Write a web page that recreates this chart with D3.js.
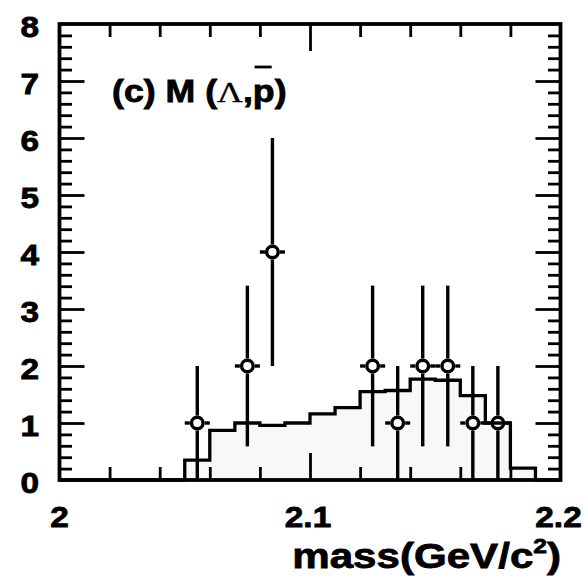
<!DOCTYPE html>
<html>
<head>
<meta charset="utf-8">
<script src="https://cdn.jsdelivr.net/npm/d3@7"></script>
<style>
  html, body { margin: 0; padding: 0; background: #ffffff; }
  svg { display: block; }
</style>
</head>
<body>
<svg id="chart" width="586" height="584"></svg>
<script>
// Histogram bin edges (GeV/c^2) and expected (MC) contents per bin
const binEdges = [2.00, 2.01, 2.02, 2.03, 2.04, 2.05, 2.06, 2.07, 2.08, 2.09, 2.10,
                  2.11, 2.12, 2.13, 2.14, 2.15, 2.16, 2.17, 2.18, 2.19, 2.20];
const mcCounts = [0, 0, 0, 0, 0, 0.35, 0.87, 1.00, 0.96, 1.00,
                  1.16, 1.27, 1.55, 1.57, 1.77, 1.75, 1.48, 1.00, 0.21, 0];

// Measured points: bin centre, entries, statistical error
const dataMass   = [2.055, 2.075, 2.085, 2.125, 2.135, 2.145, 2.155, 2.165, 2.175];
const dataCounts = [1, 2, 4, 2, 1, 2, 2, 1, 1];
const dataErrors = [1, 1.41, 2, 1.41, 1, 1.41, 1.41, 1, 1];

// Axis labelling
const xLabelValues = [2.0, 2.1, 2.2];
const xTickLabels  = ["2", "2.1", "2.2"];
const yLabelValues = [0, 1, 2, 3, 4, 5, 6, 7, 8];
const yTickLabels  = ["0", "1", "2", "3", "4", "5", "6", "7", "8"];

const svg = d3.select("#chart");
const FONT = "'Liberation Sans', Arial, Helvetica, sans-serif";
const STRETCH = 1.15;
const TEXT_WEIGHT = 0.8;   // extra outline to give the heavy print look

const x = d3.scaleLinear().domain([2.0, 2.2]).range([59.5, 560.5]);
const y = d3.scaleLinear().domain([0, 8]).range([480, 24]);

// ---- filled histogram -------------------------------------------------------
const histPts = [[binEdges[0], 0]];
mcCounts.forEach((v, i) => {
  histPts.push([binEdges[i], v]);
  histPts.push([binEdges[i + 1], v]);
});
histPts.push([binEdges[binEdges.length - 1], 0]);

svg.append("path")
  .datum(histPts)
  .attr("fill", "#f8f8f8")
  .attr("d", d3.area().x(d => x(d[0])).y0(y(0)).y1(d => y(d[1])));

// ---- axes (ticks pointing inwards on all four sides) -------------------------
const xMajor = [2.1];
const xMinor = d3.range(2.02, 2.19, 0.02).filter(v => Math.abs(v - 2.1) > 1e-6);
const yMajor = d3.range(1, 8, 1);
const yMinor = d3.range(0.2, 8, 0.2).filter(v => Math.abs(v - Math.round(v)) > 1e-6);

function tickLayer(axis, tr) {
  const g = svg.append("g").attr("transform", tr).call(axis);
  g.select(".domain").remove();
  g.selectAll(".tick line").attr("stroke", "#000").attr("stroke-width", 2.8);
  g.selectAll(".tick text").remove();
}
tickLayer(d3.axisBottom(x).tickValues(xMajor).tickSize(-27).tickFormat(""), `translate(0,${y(0)})`);
tickLayer(d3.axisBottom(x).tickValues(xMinor).tickSize(-13).tickFormat(""), `translate(0,${y(0)})`);
tickLayer(d3.axisTop(x).tickValues(xMajor).tickSize(-27).tickFormat(""), `translate(0,${y(8)})`);
tickLayer(d3.axisTop(x).tickValues(xMinor).tickSize(-13).tickFormat(""), `translate(0,${y(8)})`);
tickLayer(d3.axisLeft(y).tickValues(yMajor).tickSize(-25).tickFormat(""), `translate(${x(2.0)},0)`);
tickLayer(d3.axisLeft(y).tickValues(yMinor).tickSize(-12.5).tickFormat(""), `translate(${x(2.0)},0)`);
tickLayer(d3.axisRight(y).tickValues(yMajor).tickSize(-25).tickFormat(""), `translate(${x(2.2)},0)`);
tickLayer(d3.axisRight(y).tickValues(yMinor).tickSize(-12.5).tickFormat(""), `translate(${x(2.2)},0)`);

// ---- histogram outline -------------------------------------------------------
svg.append("path")
  .datum(histPts)
  .attr("fill", "none")
  .attr("stroke", "#000")
  .attr("stroke-width", 3.3)
  .attr("stroke-linejoin", "miter")
  .attr("d", d3.line().x(d => x(d[0])).y(d => y(d[1])));

// ---- data points with error bars ---------------------------------------------
const halfBin = (binEdges[1] - binEdges[0]) / 2;
const R = 5.8, SW = 3.4, GAP = R + SW / 2;
const pts = dataMass.map((m, i) => ({ m, c: dataCounts[i], e: dataErrors[i] }));
const gp = svg.append("g").attr("stroke", "#000").attr("stroke-width", SW);
pts.forEach(p => {
  const cx = x(p.m), cy = y(p.c);
  const segs = [
    [cx, y(p.c + p.e), cx, cy - GAP],
    [cx, cy + GAP, cx, y(Math.max(0, p.c - p.e))],
    [x(p.m - halfBin), cy, cx - GAP, cy],
    [cx + GAP, cy, x(p.m + halfBin), cy]
  ];
  segs.forEach(s => gp.append("line")
    .attr("x1", s[0]).attr("y1", s[1]).attr("x2", s[2]).attr("y2", s[3]));
  gp.append("circle").attr("cx", cx).attr("cy", cy).attr("r", R).attr("fill", "none");
});

// ---- frame ---------------------------------------------------------------------
svg.append("rect")
  .attr("x", x(2.0)).attr("y", y(8))
  .attr("width", x(2.2) - x(2.0)).attr("height", y(0) - y(8))
  .attr("fill", "none").attr("stroke", "#000").attr("stroke-width", 3.8);

// ---- tick labels ---------------------------------------------------------------
function stretchedText(tx, ty, str, anchor, size) {
  return svg.append("text")
    .attr("transform", `translate(${tx},${ty}) scale(${STRETCH},1)`)
    .attr("text-anchor", anchor)
    .attr("font-family", FONT).attr("font-weight", "bold")
    .attr("font-size", size).attr("fill", "#000")
    .attr("stroke", "#000").attr("stroke-width", TEXT_WEIGHT)
    .text(str);
}
yLabelValues.forEach((v, i) => stretchedText(39, y(v) + 12.5, yTickLabels[i], "end", 29));
xLabelValues.forEach((v, i) => stretchedText(x(v) - (i === 0 ? 0 : 2), 527, xTickLabels[i], "middle", 29));

// ---- axis title ------------------------------------------------------------------
const title = svg.append("text")
  .attr("transform", "translate(561,568) scale(1.17,1)")
  .attr("text-anchor", "end")
  .attr("font-family", FONT).attr("font-weight", "bold")
  .attr("font-size", 36).attr("fill", "#000")
  .attr("stroke", "#000").attr("stroke-width", TEXT_WEIGHT);
title.append("tspan").text("mass(GeV/c");
title.append("tspan").attr("font-size", 21).attr("dy", -15).text("2");
title.append("tspan").attr("dy", 15).text(")");

// ---- panel label ------------------------------------------------------------------
const lg = svg.append("g").attr("transform", "translate(112,102) scale(1.17,1)");
const lbl = lg.append("text")
  .attr("font-family", FONT).attr("font-weight", "bold")
  .attr("font-size", 30.5).attr("fill", "#000")
  .attr("stroke", "#000").attr("stroke-width", TEXT_WEIGHT);
lbl.append("tspan").text("(c) M (");
lbl.append("tspan")
  .attr("font-family", "'Liberation Serif', 'Times New Roman', serif")
  .attr("font-weight", "normal").attr("stroke-width", 0.3).text("Λ");
lbl.append("tspan").text(",p)");
// bar over the antiproton symbol
const pIdx = "(c) M (Λ,".length;
const ext = lbl.node().getExtentOfChar(pIdx);
lg.append("line")
  .attr("x1", ext.x + 1.5).attr("x2", ext.x + ext.width - 2.5)
  .attr("y1", -35).attr("y2", -35)
  .attr("stroke", "#000").attr("stroke-width", 2.8);
</script>
</body>
</html>
